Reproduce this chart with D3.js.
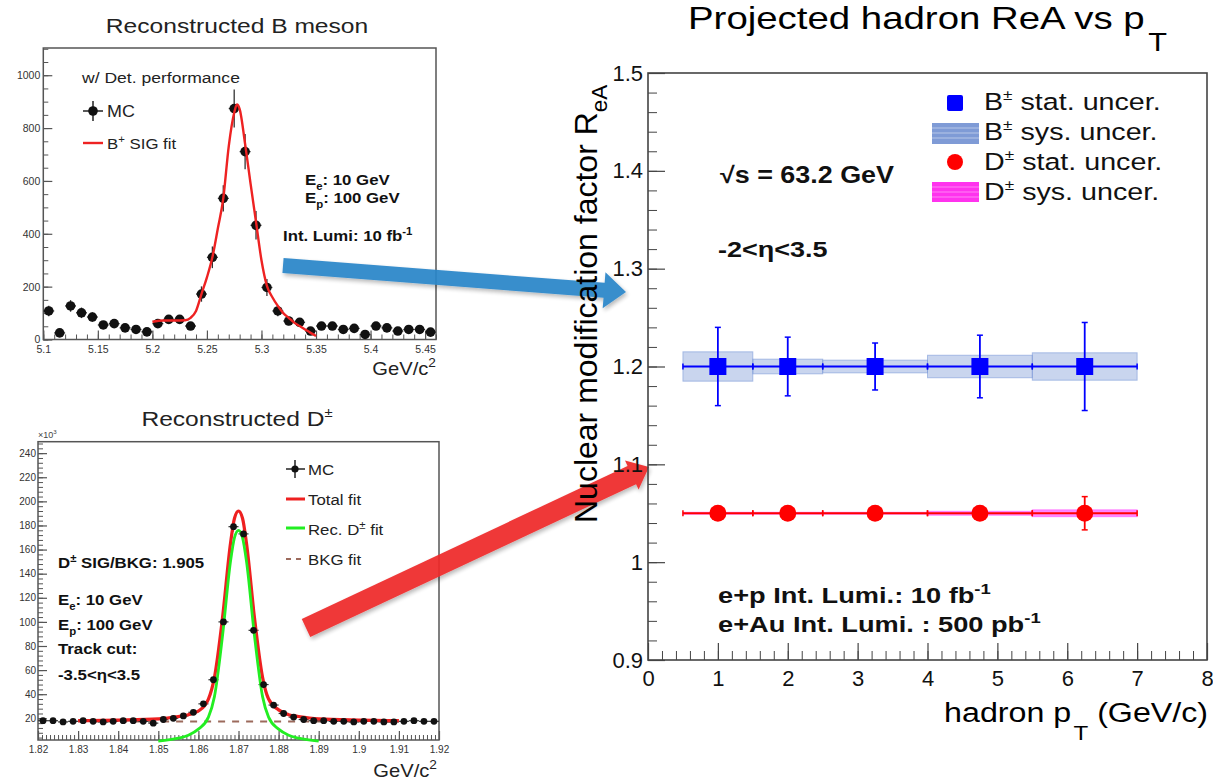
<!DOCTYPE html>
<html><head><meta charset="utf-8">
<script src="https://cdn.jsdelivr.net/npm/d3@7"></script>
<style>
body{margin:0;background:#fff}
svg{display:block}
text{font-family:"Liberation Sans",Arial,Helvetica,sans-serif}
</style>
</head><body>
<svg id="c" width="1213" height="780"></svg>
<script>
// ================= DATA =================
// --- Main chart: projected R_eA vs hadron pT
const ptCenters = [1, 2, 3.25, 4.75, 6.25];
const binLow    = [0.5, 1.5, 2.5, 4.0, 5.5];
const binHigh   = [1.5, 2.5, 4.0, 5.5, 7.0];
const bReA  = [1.2, 1.2, 1.2, 1.2, 1.2];
const bStat = [0.040, 0.030, 0.024, 0.032, 0.045];
const bSys  = [0.015, 0.0075, 0.0065, 0.0115, 0.014];
const dReA  = [1.05, 1.05, 1.05, 1.05, 1.05];
const dStat = [0.004, 0.004, 0.004, 0.004, 0.017];
const dSys  = [0.001, 0.001, 0.001, 0.002, 0.0035];
const mainYTicks = [0.9, 1.0, 1.1, 1.2, 1.3, 1.4, 1.5];
const mainYLabels = ["0.9", "1", "1.1", "1.2", "1.3", "1.4", "1.5"];
const mainXTicks = [0, 1, 2, 3, 4, 5, 6, 7, 8];
const mainXLabels = ["0", "1", "2", "3", "4", "5", "6", "7", "8"];

// --- Top-left: reconstructed B meson invariant mass
const bMass = [5.105,5.115,5.125,5.135,5.145,5.155,5.165,5.175,5.185,5.195,
               5.205,5.215,5.225,5.235,5.245,5.255,5.265,5.275,5.285,5.295,
               5.305,5.315,5.325,5.335,5.345,5.355,5.365,5.375,5.385,5.395,
               5.405,5.415,5.425,5.435,5.445,5.455];
const bCounts = [108,25,127,101,85,55,60,44,38,29,
                 60,76,76,51,172,311,534,874,711,432,
                 197,108,70,65,32,51,51,38,42,19,
                 51,44,32,38,38,28];
const bErr = [20,10,22,20,18,14,15,13,12,11,
              15,17,17,14,29,41,50,72,67,54,
              32,20,16,16,11,14,14,12,13,9,
              14,13,11,12,12,10];
const bFitMass = [5.200,5.210,5.220,5.230,5.235,5.240,5.245,5.250,5.255,5.260,5.265,5.270,5.275,5.2775,5.280,
                  5.285,5.290,5.295,5.300,5.305,5.310,5.315,5.320,5.325,5.330,5.335,5.340,5.345,5.350];
const bFitVal  = [67,72,72,73,82,108,172,235,311,420,534,731,858,889,872,
                  740,590,445,300,203,160,127,100,82,64,51,38,25,13];
const bXTicks = [5.1,5.15,5.2,5.25,5.3,5.35,5.4,5.45];
const bXLabels = ["5.1","5.15","5.2","5.25","5.3","5.35","5.4","5.45"];
const bYTicks = [0,200,400,600,800,1000];
const bYLabels = ["0","200","400","600","800","1000"];

// --- Bottom-left: reconstructed D± invariant mass (x10^3)
const dMass = [1.82125,1.82375,1.82625,1.82875,1.83125,1.83375,1.83625,1.83875,1.84125,1.84375,
               1.84625,1.84875,1.85125,1.85375,1.85625,1.85875,1.86125,1.86375,1.86625,1.86875,
               1.87125,1.87375,1.87625,1.87875,1.88125,1.88375,1.88625,1.88875,1.89125,1.89375,
               1.89625,1.89875,1.90125,1.90375,1.90625,1.90875,1.91125,1.91375,1.91625,1.91875];
const dCounts = [18,18,17,17.5,18,17.5,17,17.5,18,18,
                 17.5,16,19,20,22,25,32,52,100,179,
                 173,93,48,31,24,21,19,18,18,17.5,
                 17.5,17,17.5,17.5,17,17,17.5,18,17.5,17.5];
const dErr = [1.5,1.5,1.5,1.5,1.5,1.5,1.5,1.5,1.5,1.5,
              1.5,1.5,1.5,1.5,1.5,1.5,2,2.5,3,4,
              4,3,2.5,2,1.5,1.5,1.5,1.5,1.5,1.5,
              1.5,1.5,1.5,1.5,1.5,1.5,1.5,1.5,1.5,1.5];
const dTotMass = [1.830,1.840,1.850,1.855,1.8575,1.860,1.8625,1.864,1.866,1.868,1.869,1.870,
                  1.871,1.872,1.874,1.876,1.8775,1.880,1.8825,1.885,1.890,1.900,1.910];
const dTotVal  = [18,18.5,19.5,21.5,23,26,36,54,103,165,186,192,
                  186,165,103,54,36,27,23,21.5,19.5,18.5,18];
const dSigMass = [1.850,1.855,1.8575,1.860,1.8625,1.864,1.866,1.868,1.869,1.870,
                  1.871,1.872,1.874,1.876,1.8775,1.880,1.8825,1.885,1.890];
const dSigVal  = [1,3.5,6,11,21,38,88,150,170,176,
                  170,150,88,38,21,11,6,3.5,1];
const dBkgMass = [1.830, 1.910];
const dBkgVal  = [17.3, 17.3];
const dXTicks = [1.82,1.83,1.84,1.85,1.86,1.87,1.88,1.89,1.90,1.91,1.92];
const dXLabels = ["1.82","1.83","1.84","1.85","1.86","1.87","1.88","1.89","1.9","1.91","1.92"];
const dYTicks = [20,40,60,80,100,120,140,160,180,200,220,240];
const dYLabels = ["20","40","60","80","100","120","140","160","180","200","220","240"];

// ================= DRAWING =================
const svg = d3.select("#c");
const SX = 1.12;   // horizontal stretch of the reference text

function txt(g, x, y, parts, o) {
  o = o || {};
  const size = o.size || 16;
  const t = g.append("text")
    .attr("transform", `translate(${x},${y}) scale(${o.sx || SX},1)` + (o.rot ? ` rotate(${o.rot})` : ""))
    .attr("font-size", size)
    .attr("font-weight", o.bold ? "bold" : null)
    .attr("fill", o.fill || "#111")
    .attr("text-anchor", o.anchor || "start");
  if (typeof parts === "string") parts = [{t: parts}];
  let shift = 0;
  parts.forEach(p => {
    let target = 0, fs = size;
    if (p.sup) { target = -(p.rise || 0.42) * size; fs = (p.scale || 0.68) * size; }
    if (p.sub) { target = (p.drop || 0.3) * size; fs = (p.scale || 0.68) * size; }
    t.append("tspan").attr("dy", target - shift).attr("dx", p.dx || 0)
      .attr("font-size", fs).text(p.t);
    shift = target;
  });
  return t;
}

// ---------- generic ROOT-like axes ----------
function frame(g, x0, y0, x1, y1, color, w) {
  g.append("rect").attr("x", x0).attr("y", y0).attr("width", x1 - x0).attr("height", y1 - y0)
    .attr("fill", "none").attr("stroke", color).attr("stroke-width", w);
}
function yAxis(g, y, x0, ticks, labels, minor, majLen, minLen, pad, fs, color, tcol) {
  const a = g.append("g").attr("transform", `translate(${x0},0)`)
    .call(d3.axisLeft(y).tickValues(minor).tickSize(-minLen).tickFormat(""));
  a.select(".domain").remove();
  a.selectAll("line").attr("stroke", tcol).attr("stroke-width", 1);
  const b = g.append("g").attr("transform", `translate(${x0},0)`)
    .call(d3.axisLeft(y).tickValues(ticks).tickSize(-majLen).tickPadding(pad)
      .tickFormat((d, i) => labels[i]));
  b.select(".domain").remove();
  b.selectAll("line").attr("stroke", tcol).attr("stroke-width", 1.2);
  b.selectAll("text").attr("font-size", fs).attr("fill", color)
    .attr("font-family", '"Liberation Sans",Arial,sans-serif');
  return b;
}
function xAxis(g, x, y0, ticks, labels, minor, majLen, minLen, pad, fs, color, tcol) {
  const a = g.append("g").attr("transform", `translate(0,${y0})`)
    .call(d3.axisBottom(x).tickValues(minor).tickSize(-minLen).tickFormat(""));
  a.select(".domain").remove();
  a.selectAll("line").attr("stroke", tcol).attr("stroke-width", 1);
  const b = g.append("g").attr("transform", `translate(0,${y0})`)
    .call(d3.axisBottom(x).tickValues(ticks).tickSize(-majLen).tickPadding(pad)
      .tickFormat((d, i) => labels[i]));
  b.select(".domain").remove();
  b.selectAll("line").attr("stroke", tcol).attr("stroke-width", 1.2);
  b.selectAll("text").attr("font-size", fs).attr("fill", color)
    .attr("font-family", '"Liberation Sans",Arial,sans-serif');
  return b;
}
function rangeStep(a, b, s) { const r = []; for (let v = a; v <= b + 1e-9; v += s) r.push(+v.toFixed(6)); return r; }

// ================= Panel 1: B meson =================
{
  const g = svg.append("g");
  const x = d3.scaleLinear().domain([5.1, 5.46]).range([43.3, 436]);
  const y = d3.scaleLinear().domain([0, 1103]).range([339.5, 48]);
  txt(g, 237, 33, "Reconstructed B meson", {size: 20.5, anchor: "middle", fill: "#222", sx: 1.2});
  yAxis(g, y, 43.3, bYTicks, bYLabels, rangeStep(0, 1100, 50), 9, 5, 3, 10.5, "#333", "#555");
  xAxis(g, x, 339.5, bXTicks, bXLabels, rangeStep(5.1, 5.46, 0.01), 9, 5, 6, 10.5, "#333", "#555");
  frame(g, 43.3, 48, 436, 339.5, "#555", 1.5);
  const pts = g.append("g");
  bMass.forEach((m, i) => {
    const cx = x(m), cy = y(bCounts[i]);
    pts.append("line").attr("x1", cx).attr("x2", cx)
      .attr("y1", y(bCounts[i] - bErr[i])).attr("y2", y(bCounts[i] + bErr[i]))
      .attr("stroke", "#333").attr("stroke-width", 1.3);
    pts.append("line").attr("x1", x(m - 0.005)).attr("x2", x(m + 0.005))
      .attr("y1", cy).attr("y2", cy).attr("stroke", "#333").attr("stroke-width", 1.3);
  });
  const line = d3.line().x((d, i) => x(bFitMass[i])).y(d => y(d)).curve(d3.curveMonotoneX);
  g.append("path").attr("d", line(bFitVal)).attr("fill", "none")
    .attr("stroke", "#ee2222").attr("stroke-width", 2.4);
  bMass.forEach((m, i) => {
    pts.append("circle").attr("cx", x(m)).attr("cy", y(bCounts[i])).attr("r", 4.8).attr("fill", "#111");
  });
  txt(g, 82, 83, "w/ Det. performance", {size: 15, fill: "#222", sx: 1.17});
  g.append("line").attr("x1", 83).attr("x2", 103).attr("y1", 111).attr("y2", 111).attr("stroke", "#222").attr("stroke-width", 1.5);
  g.append("line").attr("x1", 93).attr("x2", 93).attr("y1", 101).attr("y2", 121).attr("stroke", "#222").attr("stroke-width", 1.5);
  g.append("circle").attr("cx", 93).attr("cy", 111).attr("r", 4.8).attr("fill", "#111");
  txt(g, 107, 117, "MC", {size: 16, fill: "#222"});
  g.append("line").attr("x1", 83).attr("x2", 103).attr("y1", 143).attr("y2", 143).attr("stroke", "#ee2222").attr("stroke-width", 2.4);
  txt(g, 107, 149, [{t: "B"}, {t: "+", sup: true}, {t: " SIG fit"}], {size: 15, fill: "#222"});
  txt(g, 305, 185, [{t: "E"}, {t: "e", sub: true}, {t: ": 10 GeV"}], {size: 15, bold: true});
  txt(g, 305, 203, [{t: "E"}, {t: "p", sub: true}, {t: ": 100 GeV"}], {size: 15, bold: true});
  txt(g, 283, 241, [{t: "Int. Lumi: 10 fb"}, {t: "-1", sup: true}], {size: 15, bold: true});
  txt(g, 436, 375, [{t: "GeV/c"}, {t: "2", sup: true}], {size: 18, anchor: "end", fill: "#222"});
}

// ================= Panel 2: D meson =================
{
  const g = svg.append("g");
  const x = d3.scaleLinear().domain([1.82, 1.92]).range([38, 439]);
  const y = d3.scaleLinear().domain([2, 249.5]).range([740, 441.7]);
  txt(g, 237, 426, [{t: "Reconstructed D"}, {t: "±", sup: true, scale: 0.6}], {size: 20.5, anchor: "middle", fill: "#222", sx: 1.2});
  txt(g, 38, 438, [{t: "×10"}, {t: "3", sup: true}], {size: 9, fill: "#444", sx: 1});
  yAxis(g, y, 38, dYTicks, dYLabels, rangeStep(4, 248, 4), 9, 5, 2, 10, "#333", "#555");
  xAxis(g, x, 740, dXTicks, dXLabels, rangeStep(1.82, 1.92, 0.001), 9, 5, 6, 10, "#333", "#555");
  frame(g, 38, 441.7, 439, 740, "#555", 1.5);
  const line = d3.line().y(d => y(d)).curve(d3.curveMonotoneX);
  g.append("path").attr("d", line.x((d, i) => x(dBkgMass[i]))(dBkgVal)).attr("fill", "none")
    .attr("stroke", "#9c6a5c").attr("stroke-width", 2).attr("stroke-dasharray", "7,7");
  dMass.forEach((m, i) => {
    g.append("line").attr("x1", x(m)).attr("x2", x(m))
      .attr("y1", y(dCounts[i] - dErr[i])).attr("y2", y(dCounts[i] + dErr[i]))
      .attr("stroke", "#333").attr("stroke-width", 1.2);
    g.append("line").attr("x1", x(m - 0.00125)).attr("x2", x(m + 0.00125))
      .attr("y1", y(dCounts[i])).attr("y2", y(dCounts[i])).attr("stroke", "#333").attr("stroke-width", 1.2);
  });
  g.append("path").attr("d", line.x((d, i) => x(dTotMass[i]))(dTotVal)).attr("fill", "none")
    .attr("stroke", "#ee2020").attr("stroke-width", 3.2);
  g.append("path").attr("d", line.x((d, i) => x(dSigMass[i]))(dSigVal)).attr("fill", "none")
    .attr("stroke", "#22ee22").attr("stroke-width", 2.8);
  dMass.forEach((m, i) => {
    g.append("circle").attr("cx", x(m)).attr("cy", y(dCounts[i])).attr("r", 3.4).attr("fill", "#111");
  });
  g.append("line").attr("x1", 286).attr("x2", 305).attr("y1", 469).attr("y2", 469).attr("stroke", "#222").attr("stroke-width", 1.5);
  g.append("line").attr("x1", 295).attr("x2", 295).attr("y1", 460).attr("y2", 478).attr("stroke", "#222").attr("stroke-width", 1.5);
  g.append("circle").attr("cx", 295).attr("cy", 469).attr("r", 3.6).attr("fill", "#111");
  txt(g, 308, 475, "MC", {size: 15, fill: "#222"});
  g.append("line").attr("x1", 286).attr("x2", 305).attr("y1", 499).attr("y2", 499).attr("stroke", "#ee2020").attr("stroke-width", 3);
  txt(g, 308, 505, "Total fit", {size: 15, fill: "#222"});
  g.append("line").attr("x1", 286).attr("x2", 305).attr("y1", 528).attr("y2", 528).attr("stroke", "#22ee22").attr("stroke-width", 3);
  txt(g, 308, 535, [{t: "Rec. D"}, {t: "±", sup: true}, {t: " fit"}], {size: 15, fill: "#222"});
  g.append("line").attr("x1", 286).attr("x2", 305).attr("y1", 559).attr("y2", 559).attr("stroke", "#9c6a5c").attr("stroke-width", 2).attr("stroke-dasharray", "5,5");
  txt(g, 308, 565, "BKG fit", {size: 15, fill: "#222"});
  txt(g, 58, 568, [{t: "D"}, {t: "±", sup: true}, {t: " SIG/BKG: 1.905"}], {size: 15, bold: true});
  txt(g, 58, 605, [{t: "E"}, {t: "e", sub: true}, {t: ": 10 GeV"}], {size: 15, bold: true});
  txt(g, 58, 630, [{t: "E"}, {t: "p", sub: true}, {t: ": 100 GeV"}], {size: 15, bold: true});
  txt(g, 58, 654, "Track cut:", {size: 15, bold: true});
  txt(g, 58, 680, "-3.5<η<3.5", {size: 15, bold: true});
  txt(g, 437, 777, [{t: "GeV/c"}, {t: "2", sup: true}], {size: 18, anchor: "end", fill: "#222"});
}

// ================= Arrows =================
{
  const defs = svg.append("defs");
  const f = defs.append("filter").attr("id", "sh").attr("x", "-20%").attr("y", "-50%").attr("width", "140%").attr("height", "200%");
  f.append("feDropShadow").attr("dx", 1.5).attr("dy", 2.5).attr("stdDeviation", 2).attr("flood-color", "#000").attr("flood-opacity", 0.3);
  function arrow(tail, tip, hw, headHw, headLen, color) {
    const dx = tip[0] - tail[0], dy = tip[1] - tail[1], L = Math.hypot(dx, dy);
    const ux = dx / L, uy = dy / L, px = -uy, py = ux;
    const bx = tip[0] - ux * headLen, by = tip[1] - uy * headLen;
    const P = [
      [tail[0] + px * hw, tail[1] + py * hw],
      [bx + px * hw, by + py * hw],
      [bx + px * headHw, by + py * headHw],
      tip,
      [bx - px * headHw, by - py * headHw],
      [bx - px * hw, by - py * hw],
      [tail[0] - px * hw, tail[1] - py * hw]
    ];
    svg.append("path").attr("d", "M" + P.map(p => p.join(",")).join("L") + "Z")
      .attr("fill", color).attr("opacity", 0.93).attr("filter", "url(#sh)");
  }
  arrow([283, 265.5], [626, 292], 7.5, 18, 22, "#2c86c9");
  arrow([306, 628], [649, 467], 10, 16, 19, "#ee2a2a");
}

// ================= Main chart =================
{
  const g = svg.append("g");
  const x = d3.scaleLinear().domain([0, 8]).range([648, 1207]);
  const y = d3.scaleLinear().domain([0.9, 1.5]).range([660, 73]);
  txt(g, 688, 29, [{t: "Projected hadron ReA vs p"}, {t: "T", sub: true, drop: 0.68, scale: 0.8, dx: 3}], {size: 32, fill: "#000", sx: 1.2});
  ptCenters.forEach((c, i) => {
    g.append("rect").attr("x", x(binLow[i])).attr("width", x(binHigh[i]) - x(binLow[i]))
      .attr("y", y(bReA[i] + bSys[i])).attr("height", y(bReA[i] - bSys[i]) - y(bReA[i] + bSys[i]))
      .attr("fill", "#5a7fcc").attr("fill-opacity", 0.33).attr("stroke", "#7d9bd8").attr("stroke-opacity", 0.6);
    g.append("rect").attr("x", x(binLow[i])).attr("width", x(binHigh[i]) - x(binLow[i]))
      .attr("y", y(dReA[i] + dSys[i])).attr("height", Math.max(1, y(dReA[i] - dSys[i]) - y(dReA[i] + dSys[i])))
      .attr("fill", "#ff22ff").attr("fill-opacity", 0.55).attr("stroke", "#ff55ff").attr("stroke-opacity", 0.6);
  });
  function series(vals, stat, color, shape) {
    ptCenters.forEach((c, i) => {
      const cy = y(vals[i]);
      g.append("line").attr("x1", x(binLow[i])).attr("x2", x(binHigh[i])).attr("y1", cy).attr("y2", cy)
        .attr("stroke", color).attr("stroke-width", 1.8);
      [binLow[i], binHigh[i]].forEach(e => g.append("line").attr("x1", x(e)).attr("x2", x(e))
        .attr("y1", cy - 3).attr("y2", cy + 3).attr("stroke", color).attr("stroke-width", 1.5));
      g.append("line").attr("x1", x(c)).attr("x2", x(c)).attr("y1", y(vals[i] + stat[i])).attr("y2", y(vals[i] - stat[i]))
        .attr("stroke", color).attr("stroke-width", 1.8);
      [vals[i] + stat[i], vals[i] - stat[i]].forEach(e => g.append("line").attr("x1", x(c) - 3).attr("x2", x(c) + 3)
        .attr("y1", y(e)).attr("y2", y(e)).attr("stroke", color).attr("stroke-width", 1.5));
      if (shape === "sq") g.append("rect").attr("x", x(c) - 8.5).attr("y", cy - 8.5).attr("width", 17).attr("height", 17).attr("fill", color);
      else g.append("circle").attr("cx", x(c)).attr("cy", cy).attr("r", 8.5).attr("fill", color);
    });
  }
  series(bReA, bStat, "#0000ff", "sq");
  series(dReA, dStat, "#ff0000", "ci");
  yAxis(g, y, 648, mainYTicks, mainYLabels, rangeStep(0.9, 1.5, 0.02), 17, 9, 5, 22, "#111", "#444");
  xAxis(g, x, 660, mainXTicks, mainXLabels, rangeStep(0, 8, 0.2), 17, 9, 10, 22, "#111", "#444");
  frame(g, 648, 73, 1207, 660, "#444", 1.6);
  txt(g, 1208, 722, [{t: "hadron p"}, {t: "T", sub: true, drop: 0.65, scale: 0.75, dx: 2}, {t: " (GeV/c)"}], {size: 28, anchor: "end", fill: "#000", sx: 1.15});
  txt(g, 597, 523, [{t: "Nuclear modification factor R"}, {t: "eA", sub: true, drop: 0.3, scale: 0.7}], {size: 32, rot: -90, sx: 1, fill: "#000"});
  txt(g, 720, 183, [{t: "√"}, {t: "s = 63.2 GeV"}], {size: 23, bold: true, sx: 1.17});
  txt(g, 718, 257, "-2<η<3.5", {size: 22.5, bold: true, sx: 1.2});
  txt(g, 718, 603, [{t: "e+p Int. Lumi.: 10 fb"}, {t: "-1", sup: true}], {size: 22.5, bold: true, sx: 1.21});
  txt(g, 718, 632, [{t: "e+Au Int. Lumi. : 500 pb"}, {t: "-1", sup: true}], {size: 22.5, bold: true, sx: 1.21});
  const lg = g.append("g");
  lg.append("rect").attr("x", 947).attr("y", 95).attr("width", 16).attr("height", 16).attr("rx", 2).attr("fill", "#0000ff");
  lg.append("rect").attr("x", 932).attr("y", 123).attr("width", 47).attr("height", 21).attr("fill", "#7f9bd6");
  [128, 133, 138].forEach(yy => lg.append("line").attr("x1", 932).attr("x2", 979).attr("y1", yy).attr("y2", yy).attr("stroke", "#fff").attr("stroke-opacity", 0.45));
  lg.append("circle").attr("cx", 955).attr("cy", 162).attr("r", 8).attr("fill", "#ff0000");
  lg.append("rect").attr("x", 932).attr("y", 182).attr("width", 47).attr("height", 20).attr("fill", "#ff33ee");
  [187, 192, 197].forEach(yy => lg.append("line").attr("x1", 932).attr("x2", 979).attr("y1", yy).attr("y2", yy).attr("stroke", "#fff").attr("stroke-opacity", 0.4));
  const legTexts = [["B", " stat. uncer.", 110], ["B", " sys. uncer.", 140], ["D", " stat. uncer.", 170], ["D", " sys. uncer.", 200]];
  legTexts.forEach(r => txt(lg, 984, r[2], [{t: r[0]}, {t: "±", sup: true, scale: 0.6}, {t: r[1]}], {size: 23.5, fill: "#111", sx: 1.22}));
}
</script>
</body></html>
